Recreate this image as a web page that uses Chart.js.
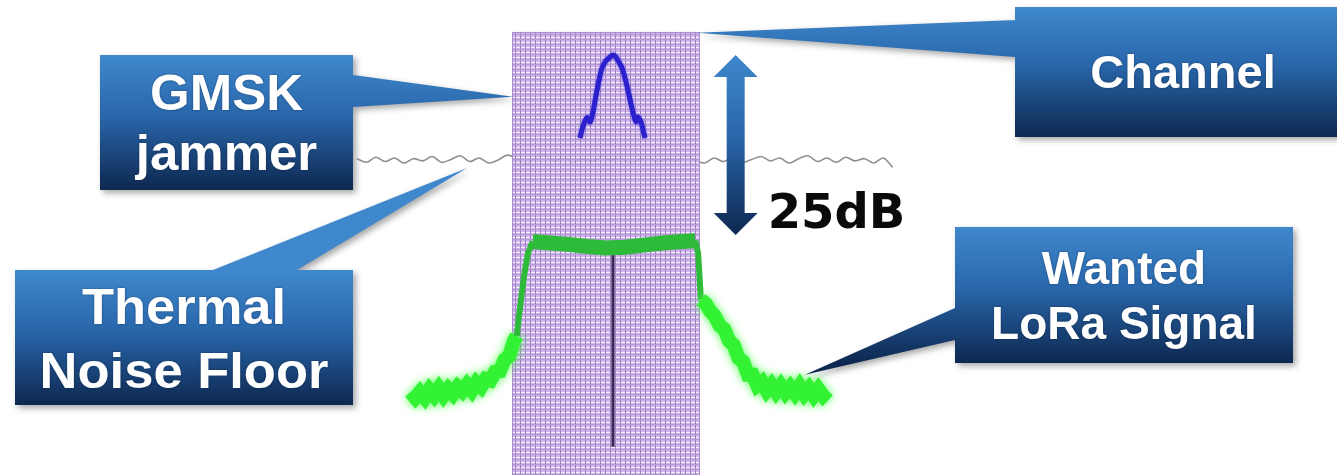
<!DOCTYPE html>
<html>
<head>
<meta charset="utf-8">
<script src="https://cdn.jsdelivr.net/npm/chart.js@4.4.1/dist/chart.umd.min.js"></script>
<style>
  html, body { margin: 0; padding: 0; background: #fff; }
  #wrap { width: 1337px; height: 475px; position: relative; }
</style>
</head>
<body>
<div id="wrap"><canvas id="spectrum"></canvas></div>
<script>
// x: frequency offset from channel centre (kHz), y: level relative to jammer peak (dB)
const channelLow = -100, channelHigh = 100, channelTop = 3.2;

const noiseFreq = [
  -265, -255, -245, -235, -225, -215, -205, -195, -185, -175,
  -165, -155, -145, -135, -125, -115, -105, -95, -85, -75,
  -65, -55, -45, -35, -25, -15, -5, 5, 15, 25,
  35, 45, 55, 65, 75, 85, 95, 105, 115, 125,
  135, 145, 155, 165, 175, 185, 195, 205, 215, 225,
  235, 245, 255, 265, 275, 285, 295, 305
];
const noiseLevel = [
  -14.4, -14.9, -14.2, -14.8, -14.3, -15.0, -14.4, -14.7, -14.1, -14.9,
  -14.5, -14.0, -14.8, -14.3, -15.0, -14.6, -13.9, -14.4, -15.1, -14.3,
  -14.0, -14.7, -14.2, -14.9, -14.4, -14.8, -14.1, -14.6, -14.3, -15.0,
  -14.5, -14.2, -14.9, -14.4, -14.7, -14.0, -14.6, -15.0, -14.3, -14.8,
  -14.2, -14.9, -14.5, -14.1, -14.7, -14.3, -15.0, -14.4, -14.0, -14.8,
  -14.3, -14.9, -14.2, -14.7, -14.4, -15.0, -14.3, -15.6
];

const jammerFreq = [-27.7, -24.5, -20.2, -17.0, -13.8, -10.6, -7.4, -4.3, 0, 4.3, 7.4, 10.6,
  13.8, 17.0, 20.2, 23.4, 26.6, 29.8, 31.9, 34.0, 37.2, 39.4, 41.5];
const jammerLevel = [-11.5, -9.9, -8.7, -9.3, -7.9, -5.6, -3.5, -1.8, -0.8, -0.3, 0.0, -0.3,
  -1.0, -1.8, -3.2, -4.9, -6.8, -8.5, -9.3, -8.6, -9.3, -10.4, -11.5];

const loraLeftFreq = [
  -208, -203, -198, -193, -188, -183, -178, -173, -168, -163,
  -158, -153, -148, -143, -138, -133, -128, -123, -118, -113,
  -108, -103, -98, -95
];
const loraLeftLevel = [
  -46.8, -47.6, -46.8, -47.6, -46.5, -47.3, -46.3, -47.3, -46.4, -47.1,
  -46.1, -46.7, -45.8, -46.6, -45.5, -46.1, -45.0, -45.2, -44.0, -43.9,
  -42.3, -41.8, -39.7, -39.0
];
const loraTopFreq = [-95, -91, -87, -83, -78, -60, -40, -20, 0, 20, 40, 60, 80, 95, 98, 101];
const loraTopLevel = [-39.0, -34.5, -30.5, -27.5, -25.9, -26.1, -26.3, -26.6, -26.8, -26.7,
  -26.4, -26.1, -25.9, -25.8, -27.5, -34.0];
const loraRightFreq = [
  101, 106, 111, 116, 121, 126, 131, 136, 141, 146,
  151, 156, 161, 166, 171, 176, 181, 186, 191, 196,
  201, 206, 211, 216, 221, 226, 231, 236
];
const loraRightLevel = [
  -34.0, -34.5, -35.6, -36.3, -37.6, -38.1, -39.7, -40.3, -42.1, -42.6,
  -44.4, -44.4, -45.9, -45.4, -46.6, -45.8, -46.8, -45.9, -46.9, -46.1,
  -47.0, -46.0, -47.1, -46.3, -47.3, -46.4, -47.3, -46.6
];

const toneFreq = [7.4, 7.4];
const toneLevel = [-27.8, -54.4];

const arrowFreq = 138, arrowTop = 0, arrowBottom = -25;
const gapLabel = '25dB';

const callouts = [
  { lines: ['GMSK', 'jammer'], x: 100, y: 55, w: 253, h: 135, base: [110, 170], size: 50, sx: 1.02,
    root: [[353, 75], [353, 107]], tip: [-98.9, -5.8] },
  { lines: ['Thermal', 'Noise Floor'], x: 15, y: 270, w: 338, h: 135, base: [324, 388], size: 50, sx: 1.05,
    root: [[297, 270], [213, 270]], tip: [-147.9, -15.7] },
  { lines: ['Channel'], x: 1015, y: 7, w: 340, h: 130, cx: 1183, base: [88], size: 47, sx: 1.0,
    root: [[1015, 57], [1015, 20]], tip: [96.8, 3.1] },
  { lines: ['Wanted', 'LoRa Signal'], x: 955, y: 227, w: 338, h: 136, base: [284, 339], size: 46, sx: 1.0,
    root: [[955, 308], [955, 340]], tip: [211.7, -44.4] }
];

function pts(xs, ys) {
  return xs.map((x, i) => ({ x: x, y: ys[i] }));
}

// lavender hatch used for the channel
function channelPattern(ctx) {
  const c = document.createElement('canvas');
  c.width = 5; c.height = 5;
  const p = c.getContext('2d');
  p.fillStyle = '#cbaeea';
  p.fillRect(0, 0, 5, 5);
  p.fillStyle = '#8f70b6';
  p.fillRect(0, 0, 1, 5);
  p.fillStyle = '#ae90d2';
  p.fillRect(0, 4, 5, 1);
  p.fillStyle = '#f6efff';
  p.fillRect(1, 2, 4, 1);
  return ctx.createPattern(c, 'repeat');
}

function blueGradient(ctx, y0, y1) {
  const g = ctx.createLinearGradient(0, y0, 0, y1);
  g.addColorStop(0, '#3f88cd');
  g.addColorStop(0.45, '#2966aa');
  g.addColorStop(1, '#0d2850');
  return g;
}

const glow = { 1: 'rgba(70,255,70,0.9)', 3: 'rgba(70,255,70,0.9)', 5: 'rgba(60,50,230,0.7)' };

const diagramPlugin = {
  id: 'diagram',
  beforeDatasetDraw(chart, args) {
    if (glow[args.index]) {
      const ctx = chart.ctx;
      ctx.save();
      ctx.shadowColor = glow[args.index];
      ctx.shadowBlur = args.index === 5 ? 3 : 8;
    }
  },
  afterDatasetDraw(chart, args) {
    const ctx = chart.ctx;
    if (glow[args.index]) {
      ctx.restore();
    }
    if (args.index === 0) {
      // channel box sits over the noise floor
      const xs = chart.scales.x, ys = chart.scales.y;
      const l = xs.getPixelForValue(channelLow), r = xs.getPixelForValue(channelHigh);
      const t = ys.getPixelForValue(channelTop), b = ys.getPixelForValue(ys.min);
      ctx.save();
      ctx.globalAlpha = 0.9;
      ctx.fillStyle = channelPattern(ctx);
      ctx.fillRect(l, t, r - l, b - t);
      ctx.globalAlpha = 1;
      ctx.strokeStyle = '#a58bcb';
      ctx.lineWidth = 1;
      ctx.strokeRect(l + 0.5, t + 0.5, r - l - 1, b - t);
      ctx.restore();
    }
  },
  afterDraw(chart) {
    const ctx = chart.ctx;
    const xs = chart.scales.x, ys = chart.scales.y;

    // 25 dB double arrow between jammer peak and LoRa level
    const ax = xs.getPixelForValue(arrowFreq);
    const at = ys.getPixelForValue(arrowTop), ab = ys.getPixelForValue(arrowBottom);
    const head = 22, hw = 22, sw = 9;
    ctx.save();
    ctx.fillStyle = blueGradient(ctx, at, ab);
    ctx.beginPath();
    ctx.moveTo(ax, at);
    ctx.lineTo(ax + hw, at + head);
    ctx.lineTo(ax + sw, at + head);
    ctx.lineTo(ax + sw, ab - head);
    ctx.lineTo(ax + hw, ab - head);
    ctx.lineTo(ax, ab);
    ctx.lineTo(ax - hw, ab - head);
    ctx.lineTo(ax - sw, ab - head);
    ctx.lineTo(ax - sw, at + head);
    ctx.lineTo(ax - hw, at + head);
    ctx.closePath();
    ctx.fill();
    ctx.fillStyle = '#0a0a0a';
    ctx.font = 'bold 48px "DejaVu Sans", sans-serif';
    ctx.textAlign = 'left';
    ctx.textBaseline = 'alphabetic';
    ctx.fillText(gapLabel, ax + 32, ab - 7);
    ctx.restore();

    // callout boxes
    callouts.forEach(c => {
      const tx = xs.getPixelForValue(c.tip[0]), ty = ys.getPixelForValue(c.tip[1]);
      ctx.save();
      ctx.fillStyle = blueGradient(ctx, c.y, c.y + c.h);
      ctx.shadowColor = 'rgba(0,0,0,0.35)';
      ctx.shadowBlur = 6;
      ctx.shadowOffsetX = 3;
      ctx.shadowOffsetY = 3;
      ctx.beginPath();
      ctx.rect(c.x, c.y, c.w, c.h);
      ctx.moveTo(c.root[0][0], c.root[0][1]);
      ctx.lineTo(tx, ty);
      ctx.lineTo(c.root[1][0], c.root[1][1]);
      ctx.closePath();
      ctx.fill();
      ctx.restore();

      ctx.save();
      ctx.fillStyle = '#ffffff';
      ctx.shadowColor = 'rgba(10,30,60,0.6)';
      ctx.shadowBlur = 2;
      ctx.font = 'bold ' + c.size + 'px "Liberation Sans", Arial, sans-serif';
      ctx.textAlign = 'center';
      ctx.textBaseline = 'alphabetic';
      const cx = c.cx !== undefined ? c.cx : c.x + c.w / 2;
      c.lines.forEach((line, i) => {
        ctx.save();
        ctx.translate(cx, c.base[i]);
        ctx.scale(c.sx, 1);
        ctx.fillText(line, 0, 0);
        ctx.restore();
      });
      ctx.restore();
    });
  }
};

new Chart(document.getElementById('spectrum'), {
  type: 'line',
  data: {
    datasets: [
      { label: 'Thermal noise floor', data: pts(noiseFreq, noiseLevel), borderColor: '#8f8f8f',
        borderWidth: 1.6, tension: 0.35, order: 6 },
      { label: 'LoRa (lower skirt)', data: pts(loraLeftFreq, loraLeftLevel), borderColor: '#33f233',
        borderWidth: 14, tension: 0, order: 5 },
      { label: 'LoRa (in channel)', data: pts(loraTopFreq, loraTopLevel), borderColor: '#2fbb3a',
        borderWidth: 15, tension: 0, borderJoinStyle: 'round', order: 4,
        segment: { borderWidth: s => (s.p0.parsed.x < -80 || s.p1.parsed.x > 96) ? 6 : 15 } },
      { label: 'LoRa (upper skirt)', data: pts(loraRightFreq, loraRightLevel), borderColor: '#33f233',
        borderWidth: 14, tension: 0, order: 3 },
      { label: 'Carrier', data: pts(toneFreq, toneLevel), borderColor: '#3a2852',
        borderWidth: 3, order: 2 },
      { label: 'GMSK jammer', data: pts(jammerFreq, jammerLevel), borderColor: '#2b20cc',
        borderWidth: 5, tension: 0.3, borderJoinStyle: 'round', order: 1 }
    ]
  },
  options: {
    responsive: true,
    maintainAspectRatio: false,
    animation: false,
    layout: { padding: 0 },
    elements: { point: { radius: 0 } },
    scales: {
      x: { type: 'linear', min: -645, max: 778, display: false },
      y: { type: 'linear', min: -58.33, max: 7.64, display: false }
    },
    plugins: {
      legend: { display: false },
      tooltip: { enabled: false }
    }
  },
  plugins: [diagramPlugin]
});
</script>
</body>
</html>
